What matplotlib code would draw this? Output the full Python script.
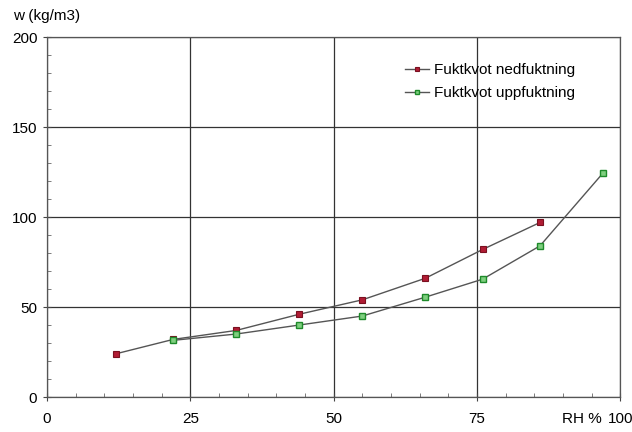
import matplotlib
matplotlib.use("Agg")
import matplotlib.pyplot as plt
from matplotlib.ticker import MultipleLocator

plt.rcParams['font.family'] = ['Liberation Sans', 'DejaVu Sans']

# moisture content vs relative humidity
rh_ned = [12, 22, 33, 44, 55, 66, 76, 86]
w_ned = [24, 32, 37, 46, 54, 66, 82, 97]
rh_upp = [22, 33, 44, 55, 66, 76, 86, 97]
w_upp = [31.5, 35, 40, 45, 55.5, 65.5, 84, 124.5]

x_ticks = [0, 25, 50, 75, 100]
y_ticks = [0, 50, 100, 150, 200]

fig = plt.figure(figsize=(6.32, 4.32), dpi=100)
ax = fig.add_axes([0.0744, 0.081, 0.907, 0.833])

ax.plot(rh_ned, w_ned, color='#555555', lw=1.0, marker='s', ms=4,
        mfc='#b01c34', mec='#7a1020', mew=0.8, label='Fuktkvot nedfuktning')
ax.plot(rh_upp, w_upp, color='#555555', lw=1.0, marker='s', ms=4,
        mfc='#7fcf7f', mec='#1e8a2a', mew=1.0, label='Fuktkvot uppfuktning')

ax.set_xlim(0, 100)
ax.set_ylim(0, 200)
ax.set_xticks(x_ticks)
ax.set_yticks(y_ticks)
ax.xaxis.set_minor_locator(MultipleLocator(5))
ax.yaxis.set_minor_locator(MultipleLocator(10))
ax.grid(True, which='major', color='#333333', lw=0.9)
ax.tick_params(which='major', direction='inout', length=6, width=0.8,
               labelsize=11, color='#444444')
ax.tick_params(which='minor', direction='in', length=3, width=0.6,
               color='#666666')
ax.tick_params(axis='x', pad=8)
ax.tick_params(axis='y', pad=4)
ax.set_xticklabels(['0', '25', '50', '75', '100'])
for s in ax.spines.values():
    s.set_color('#555555')
    s.set_linewidth(0.9)

fig.text(0.02, 0.962, 'w (kg/m3)', fontsize=11, ha='left', va='center')
ax.text(96.8, -0.043, 'RH %', transform=ax.get_xaxis_transform(),
        fontsize=11, ha='right', va='top')

ax.legend(loc='upper left', bbox_to_anchor=(0.6, 0.965), frameon=False,
          fontsize=11, handlelength=1.6, handletextpad=0.3, labelspacing=0.55,
          markerscale=0.8)

fig.savefig('out.png', dpi=100)
